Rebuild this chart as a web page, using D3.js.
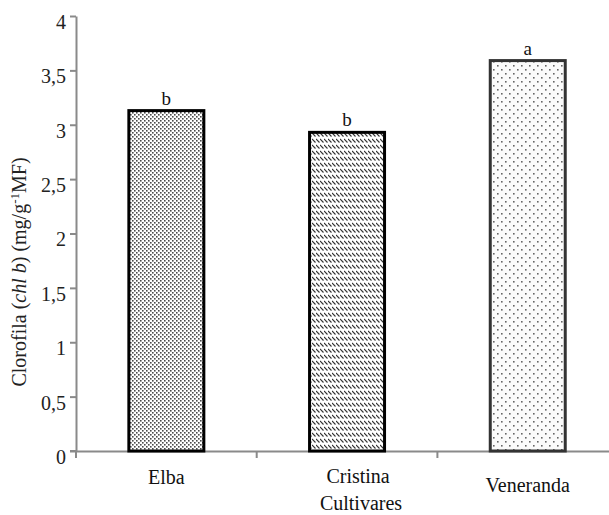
<!DOCTYPE html>
<html>
<head>
<meta charset="utf-8">
<script src="https://cdn.jsdelivr.net/npm/d3@7"></script>
<style>
  body { margin: 0; background: #fff; }
  svg { display: block; }
  svg text { font-family: "Liberation Serif", "DejaVu Serif", serif; }
</style>
</head>
<body>
<div id="chart"></div>
<script>
const categories = ["Elba", "Cristina", "Veneranda"]
const values = [3.13, 2.93, 3.59]
const letters = ["b", "b", "a"]
const yTicks = [0, 0.5, 1, 1.5, 2, 2.5, 3, 3.5, 4]
const xTitle = "Cultivares"

const chartW = 609
const chartH = 515
const plotLeft = 76
const plotTop = 16
const plotBottom = 451
const step = 180.7
const serif = "Liberation Serif, serif"

const svg = d3.select("#chart")
.append("svg")
    .attr("width", chartW)
    .attr("height", chartH)

// fill patterns, one per bar
const defs = svg.append("defs")

const dense = defs.append("pattern")
    .attr("id", "pat-dense")
    .attr("patternUnits", "userSpaceOnUse")
    .attr("width", 4).attr("height", 4)
dense.append("rect").attr("width", 4).attr("height", 4).attr("fill", "#fff")
dense.append("rect").attr("x", 0).attr("y", 0).attr("width", 1.6).attr("height", 1.6).attr("fill", "#4a4a4a")
dense.append("rect").attr("x", 2).attr("y", 2).attr("width", 1.6).attr("height", 1.6).attr("fill", "#4a4a4a")

const hatch = defs.append("pattern")
    .attr("id", "pat-hatch")
    .attr("patternUnits", "userSpaceOnUse")
    .attr("width", 4).attr("height", 6)
hatch.append("rect").attr("width", 4).attr("height", 6).attr("fill", "#fff")
hatch.append("line")
    .attr("x1", 0).attr("y1", 1).attr("x2", 3.5).attr("y2", 4.5)
    .attr("stroke", "#333").attr("stroke-width", 1.1)

const sparse = defs.append("pattern")
    .attr("id", "pat-sparse")
    .attr("patternUnits", "userSpaceOnUse")
    .attr("width", 8).attr("height", 8)
sparse.append("rect").attr("width", 8).attr("height", 8).attr("fill", "#fbfbfb")
sparse.append("rect").attr("x", 1).attr("y", 1).attr("width", 1.6).attr("height", 1.6).attr("fill", "#666")
sparse.append("rect").attr("x", 5).attr("y", 5).attr("width", 1.6).attr("height", 1.6).attr("fill", "#666")

const fills = ["url(#pat-dense)", "url(#pat-hatch)", "url(#pat-sparse)"]
const borders = ["#000", "#000", "#333"]

const xScale = d3.scaleBand()
    .domain(categories)
    .range([plotLeft, plotLeft + step * categories.length])
    .padding(0)

const yScale = d3.scaleLinear()
    .domain([0, 4])
    .range([plotBottom, plotTop])

// y axis
const yAxis = d3.axisLeft(yScale)
    .tickValues(yTicks)
    .tickSize(6)
    .tickSizeOuter(0)
    .tickFormat((d) => String(d).replace(".", ","))

const yG = svg.append("g")
    .attr("transform", "translate(" + plotLeft + ",0)")
    .call(yAxis)
    .attr("font-family", serif)
yG.select(".domain").attr("stroke", "#8a8a8a").attr("stroke-width", 2)
yG.selectAll(".tick line").attr("stroke", "#8a8a8a").attr("stroke-width", 2)
yG.selectAll(".tick text")
    .attr("x", -10)
    .attr("dy", "0.62em")
    .attr("fill", "#222")
    .attr("font-family", serif)
    .style("font-size", "20px")

// x axis
const xAxis = d3.axisBottom(xScale)
    .tickSize(0)
    .tickSizeOuter(0)
    .tickFormat("")

const xG = svg.append("g")
    .attr("transform", "translate(0," + plotBottom + ")")
    .call(xAxis)
xG.select(".domain").attr("stroke", "#8a8a8a").attr("stroke-width", 2)
xG.append("line")
    .attr("x1", plotLeft - 6).attr("x2", plotLeft)
    .attr("stroke", "#8a8a8a").attr("stroke-width", 2)
xG.selectAll(".sep")
    .data(categories)
    .enter()
    .append("line")
        .attr("x1", (d) => xScale(d))
        .attr("x2", (d) => xScale(d))
        .attr("y1", 0)
        .attr("y2", 7)
        .attr("stroke", "#8a8a8a")
        .attr("stroke-width", 2)

// bars
const barW = xScale.bandwidth() * 0.415
svg.selectAll(".bar")
.data(categories)
.enter()
.append("rect")
    .attr("x", (d) => xScale(d) + (xScale.bandwidth() - barW) / 2)
    .attr("y", (d, i) => yScale(values[i]))
    .attr("width", barW)
    .attr("height", (d, i) => yScale(0) - yScale(values[i]))
    .attr("fill", (d, i) => fills[i])
    .attr("stroke", (d, i) => borders[i])
    .attr("stroke-width", 3)

// significance letters
svg.selectAll(".letter")
.data(categories)
.enter()
.append("text")
    .attr("x", (d) => xScale(d) + xScale.bandwidth() / 2)
    .attr("y", (d, i) => yScale(values[i]) - 6)
    .attr("text-anchor", "middle")
    .attr("fill", "#111")
    .attr("font-family", serif)
    .style("font-size", "19px")
    .text((d, i) => letters[i])

// category labels
const labelDx = [0, 11, 0]
const labelY = [484, 483, 492]
svg.selectAll(".cat")
.data(categories)
.enter()
.append("text")
    .attr("x", (d, i) => xScale(d) + xScale.bandwidth() / 2 + labelDx[i])
    .attr("y", (d, i) => labelY[i])
    .attr("text-anchor", "middle")
    .attr("fill", "#111")
    .attr("font-family", serif)
    .style("font-size", "20px")
    .text((d) => d)

svg.append("text")
    .attr("x", 361)
    .attr("y", 510)
    .attr("text-anchor", "middle")
    .attr("fill", "#111")
    .attr("font-family", serif)
    .style("font-size", "20px")
    .text(xTitle)

// y title
const yTitle = svg.append("text")
    .attr("transform", "translate(26,272) rotate(-90)")
    .attr("text-anchor", "middle")
    .attr("fill", "#222")
    .attr("font-family", serif)
    .style("font-size", "20px")
yTitle.append("tspan").text("Clorofila (")
yTitle.append("tspan").style("font-style", "italic").text("chl b")
yTitle.append("tspan").text(") (mg/g")
yTitle.append("tspan").attr("baseline-shift", "super").style("font-size", "13px").text("-1")
yTitle.append("tspan").text("MF)")
</script>
</body>
</html>
